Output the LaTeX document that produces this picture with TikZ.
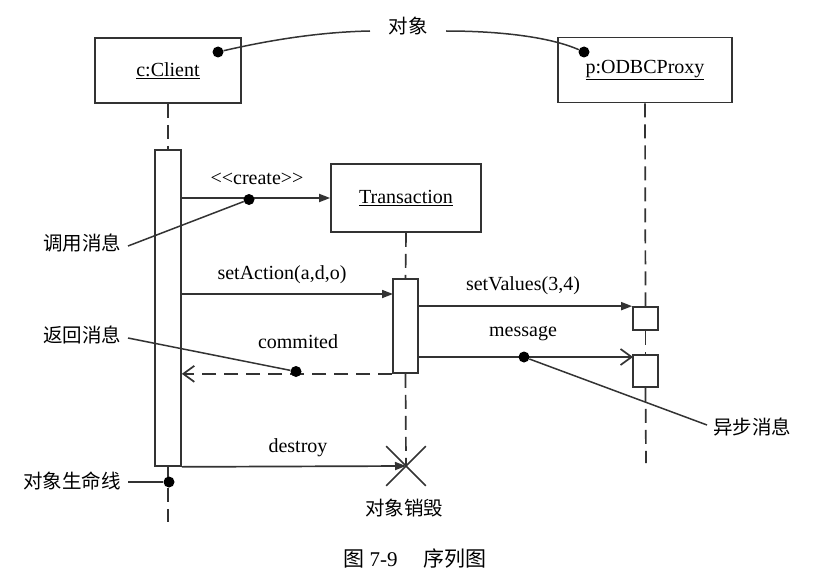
\documentclass[tikz,border=0pt]{standalone}
\usepackage{fontspec}
\setmainfont{Liberation Serif}
\newfontfamily\cjk{Noto Sans CJK SC}
\usetikzlibrary{arrows.meta,shapes.misc}
\begin{document}
\begin{tikzpicture}[x=1pt,y=-1pt,
  ln/.style={draw=black!80, line width=1.7pt},
  objbox/.style={ln, rectangle, inner sep=0pt, font=\fontsize{20}{24}\selectfont},
  actbar/.style={ln, rectangle, fill=white, inner sep=0pt},
  life/.style={ln, dash pattern=on 14pt off 7pt},
  sync/.style={ln, -{Triangle[length=11pt,width=8pt]}},
  async/.style={ln, -{Straight Barb[length=11pt,width=16pt]}},
  ret/.style={ln, dash pattern=on 14pt off 8pt, -{Straight Barb[length=11pt,width=16pt]}},
  dotn/.style={circle, fill=black, inner sep=0pt, minimum size=11pt},
  lbl/.style={font=\fontsize{20}{24}\selectfont, inner sep=0pt},
  cn/.style={font=\cjk\fontsize{19.5}{24}\selectfont, inner sep=0pt},
  callout/.style={draw=black!80, line width=1.5pt}
]
\useasboundingbox (0,0) rectangle (813,583);

% objects
\node[objbox, minimum width=146pt, minimum height=65pt] (client) at (168,70.5) {\underline{c:Client}};
\node[objbox, minimum width=174pt, minimum height=65pt] (proxy) at (645,70) {\underline{p:ODBCProxy}};
\node[objbox, minimum width=150pt, minimum height=68pt] (trans) at (406,198) {\underline{Transaction}};

% activation bars
\node[actbar, minimum width=26pt, minimum height=316pt] (cbar) at (168,308) {};
\node[actbar, minimum width=25pt, minimum height=94pt] (tbar) at (405.5,326) {};
\node[actbar, minimum width=25pt, minimum height=23pt] (pbox1) at (645.5,318.5) {};
\node[actbar, minimum width=25pt, minimum height=32pt] (pbox2) at (645.5,371) {};

% destruction mark
\node[cross out, draw=black!80, line width=1.7pt, minimum size=38pt, inner sep=0pt] (xd) at (406,466) {};

% lifelines
\coordinate (cend) at (168,522);
\coordinate (pend) at (646,463);
\draw[life] (client.south) -- (cbar.north);
\draw[life] (cbar.south) -- (cend);
\draw[life] (proxy.south) -- (pbox1.north);
\draw[life] (pbox1.south) -- (pbox2.north);
\draw[life] (pbox2.south) -- (pend);
\draw[life] (trans.south) -- (tbar.north);
\draw[life] (tbar.south) -- (xd.center);

% messages
\coordinate (sa) at (393,294);
\coordinate (ms) at (633,357);
\draw[sync] (cbar.east |- trans.west) -- (trans.west);
\draw[sync] (cbar.east |- sa) -- (sa);
\draw[sync] (tbar.east |- pbox1.north west) -- (pbox1.north west);
\draw[async] (tbar.east |- ms) -- (ms);
\draw[ret] (tbar.south west) -- (cbar.east |- tbar.south west);
\draw[sync] (cbar.south east) -- (xd.center);

% message labels
\node[lbl] (lcreate) at (257,179) {\textless\kern0pt\textless\kern0pt create\kern0pt\textgreater\kern0pt\textgreater};
\node[lbl] (lset) at (282,275) {setAction(a,d,o)};
\node[lbl] (lvals) at (523,286) {setValues(3,4)};
\node[lbl] (lmsg) at (523,334) {message};
\node[lbl] (lcom) at (298,342) {commited};
\node[lbl] (ldes) at (298,448) {destroy};

% callout dots
\node[dotn] (dclient) at (218,52) {};
\node[dotn] (dproxy) at (584,52) {};
\node[dotn] (dcreate) at (249,199.5) {};
\node[dotn] (dcom) at (296,371.5) {};
\node[dotn] (dmsg) at (524,357) {};
\node[dotn] (dlife) at (169,482) {};

% callout labels
\node[cn] (obj) at (408,26) {对象};
\node[cn] (call) at (82,243) {调用消息};
\node[cn] (retl) at (82,335) {返回消息};
\node[cn] (asyn) at (752,427) {异步消息};
\node[cn] (lifel) at (72,481) {对象生命线};
\node[cn] (dest) at (404,508) {对象销毁};

% callout lines
\coordinate (oL) at (370,31);
\coordinate (oR) at (446,31);
\coordinate (cL) at (128,246);
\coordinate (rL) at (128,338);
\coordinate (aL) at (707,425);
\coordinate (lL) at (128,482);
\draw[callout] (dclient) .. controls (270,40) and (320,32) .. (oL);
\draw[callout] (oR) .. controls (500,31) and (550,37) .. (dproxy);
\draw[callout] (cL) -- (dcreate);
\draw[callout] (rL) -- (dcom);
\draw[callout] (dmsg) -- (aL);
\draw[callout] (lL) -- (dlife);

% caption
\node[lbl, font=\fontsize{21}{24}\selectfont] (cap) at (415,559) {{\cjk 图}\hspace{5pt}7-9\hspace{26pt}{\cjk 序列图}};
\end{tikzpicture}
\end{document}
